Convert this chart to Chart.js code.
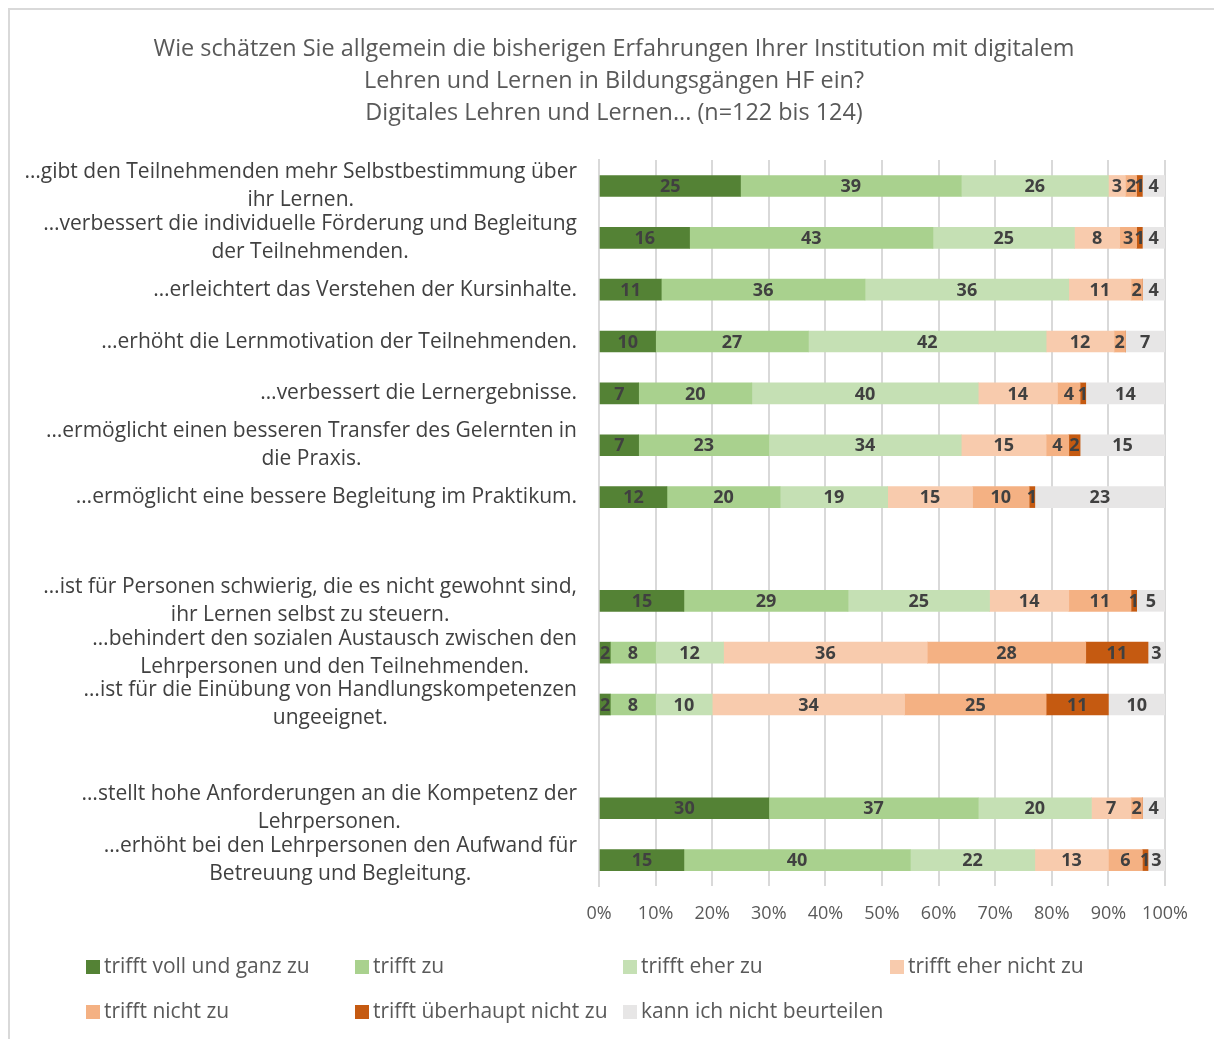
<!DOCTYPE html>
<html>
<head>
<meta charset="utf-8">
<script src="https://cdn.jsdelivr.net/npm/chart.js@4"></script>
<style>
  html, body { margin: 0; padding: 0; background: #fff; }
  #wrap { position: relative; width: 1214px; height: 1039px; }
  #frame { position: absolute; left: 8px; top: 8px; width: 1210px; height: 1040px;
           border-left: 2px solid #d9d9d9; border-top: 2px solid #d9d9d9; }
  #chart { position: absolute; left: 0; top: 0; }
  #legend { position: absolute; left: 0; top: 0; width: 1214px; height: 1039px; pointer-events: none;
            font-family: "Open Sans", sans-serif; font-size: 21px; color: #595959; }
  .item { position: absolute; white-space: nowrap; line-height: 28px; }
  .box { display: inline-block; width: 14px; height: 14px; margin-right: 4px; vertical-align: -1px; }
</style>
</head>
<body>
<div id="wrap">
  <div id="frame"></div>
  <canvas id="chart" width="1214" height="1039"></canvas>
  <div id="legend"></div>
</div>
<script>
const categories = [
  ['…gibt den Teilnehmenden mehr Selbstbestimmung über', 'ihr Lernen.'],
  ['…verbessert die individuelle Förderung und Begleitung', 'der Teilnehmenden.'],
  '…erleichtert das Verstehen der Kursinhalte.',
  '…erhöht die Lernmotivation der Teilnehmenden.',
  '…verbessert die Lernergebnisse.',
  ['…ermöglicht einen besseren Transfer des Gelernten in', 'die Praxis.'],
  '…ermöglicht eine bessere Begleitung im Praktikum.',
  '',
  ['…ist für Personen schwierig, die es nicht gewohnt sind,', 'ihr Lernen selbst zu steuern.'],
  ['…behindert den sozialen Austausch zwischen den', 'Lehrpersonen und den Teilnehmenden.'],
  ['…ist für die Einübung von Handlungskompetenzen', 'ungeeignet.'],
  '',
  ['…stellt hohe Anforderungen an die Kompetenz der', 'Lehrpersonen.'],
  ['…erhöht bei den Lehrpersonen den Aufwand für', 'Betreuung und Begleitung.']
];

const seriesNames = ['trifft voll und ganz zu', 'trifft zu', 'trifft eher zu', 'trifft eher nicht zu',
  'trifft nicht zu', 'trifft überhaupt nicht zu', 'kann ich nicht beurteilen'];
const seriesColors = ['#548235', '#A9D18E', '#C5E0B4', '#F8CBAD', '#F4B183', '#C55A11', '#E7E6E6'];

const volletGanz     = [25, 16, 11, 10,  7,  7, 12, null, 15,  2,  2, null, 30, 15];
const trifftZu       = [39, 43, 36, 27, 20, 23, 20, null, 29,  8,  8, null, 37, 40];
const eherZu         = [26, 25, 36, 42, 40, 34, 19, null, 25, 12, 10, null, 20, 22];
const eherNicht      = [ 3,  8, 11, 12, 14, 15, 15, null, 14, 36, 34, null,  7, 13];
const nichtZu        = [ 2,  3,  2,  2,  4,  4, 10, null, 11, 28, 25, null,  2,  6];
const ueberhauptNicht= [ 1,  1,  0,  0,  1,  2,  1, null,  1, 11, 11, null,  0,  1];
const kannNicht      = [ 4,  4,  4,  7, 14, 15, 23, null,  5,  3, 10, null,  4,  3];

const seriesValues = [volletGanz, trifftZu, eherZu, eherNicht, nichtZu, ueberhauptNicht, kannNicht];
const xTicks = [0, 10, 20, 30, 40, 50, 60, 70, 80, 90, 100];

const FONT = '"Open Sans", sans-serif';

// Zahlen in die Balkensegmente schreiben
const barLabels = {
  id: 'barLabels',
  afterDatasetsDraw(chart) {
    const ctx = chart.ctx;
    ctx.save();
    ctx.font = 'bold 18px ' + FONT;
    ctx.fillStyle = '#404040';
    ctx.textAlign = 'center';
    ctx.textBaseline = 'middle';
    chart.data.datasets.forEach((ds, i) => {
      const meta = chart.getDatasetMeta(i);
      meta.data.forEach((bar, j) => {
        const v = ds.data[j];
        if (!v) return;
        ctx.fillText(String(v), (bar.x + bar.base) / 2, bar.y + 1);
      });
    });
    ctx.restore();
  }
};

// Kategorien: Block rechtsbündig, Zeilen im Block zentriert (wie in Excel)
const catLabels = {
  id: 'catLabels',
  afterDraw(chart) {
    const ctx = chart.ctx;
    const yScale = chart.scales.y;
    const right = yScale.right - 22;
    ctx.save();
    ctx.font = '21px ' + FONT;
    ctx.fillStyle = '#404040';
    ctx.textAlign = 'center';
    ctx.textBaseline = 'middle';
    chart.data.labels.forEach((lab, i) => {
      const lines = Array.isArray(lab) ? lab : [lab];
      if (!lines[0]) return;
      const w = Math.max(...lines.map(l => ctx.measureText(l).width));
      const cx = right - w / 2;
      const cy = yScale.getPixelForTick(i);
      lines.forEach((l, k) => {
        ctx.fillText(l, cx, cy + (k - (lines.length - 1) / 2) * 28);
      });
    });
    ctx.restore();
  }
};

const chart = new Chart(document.getElementById('chart'), {
  type: 'bar',
  data: {
    labels: categories,
    datasets: seriesNames.map((name, i) => ({
      label: name,
      data: seriesValues[i],
      backgroundColor: seriesColors[i],
      borderWidth: 0,
      barThickness: 21
    }))
  },
  options: {
    responsive: false,
    animation: false,
    indexAxis: 'y',
    layout: { padding: { left: 14, right: 0, top: 0, bottom: 108 } },
    scales: {
      x: {
        stacked: true,
        min: 0, max: 100,
        afterBuildTicks: s => { s.ticks = xTicks.map(v => ({ value: v })); },
        afterFit: s => { s.height = 45; },
        grid: { color: '#D9D9D9', lineWidth: 2, drawTicks: false },
        border: { display: false },
        ticks: { color: '#595959', font: { family: FONT, size: 18 }, padding: 17,
                 callback: v => v + '%' }
      },
      y: {
        stacked: true,
        afterFit: s => { s.width = 585; },
        grid: { display: false, drawTicks: false },
        border: { color: '#D9D9D9', width: 2 },
        ticks: { display: false, autoSkip: false }
      },
      // leere Achse rechts, hält den Platz rechts frei
      yRight: {
        type: 'category',
        position: 'right',
        afterFit: s => { s.width = 49; },
        grid: { display: false, drawTicks: false },
        border: { display: false },
        ticks: { display: false }
      }
    },
    plugins: {
      legend: { display: false },
      tooltip: { enabled: false },
      title: {
        display: true,
        text: ['Wie schätzen Sie allgemein die bisherigen Erfahrungen Ihrer Institution mit digitalem',
               'Lehren und Lernen in Bildungsgängen HF ein?',
               'Digitales Lehren und Lernen... (n=122 bis 124)'],
        color: '#595959',
        font: { family: FONT, size: 23.4, weight: 'normal', lineHeight: 1.368 },
        padding: { top: 33, bottom: 31 }
      }
    }
  },
  plugins: [barLabels, catLabels]
});

// Legende in vier Spalten
const legend = document.getElementById('legend');
const colX = [86, 355, 623, 890];
const rowY = [951, 996];
seriesNames.forEach((name, i) => {
  const el = document.createElement('div');
  el.className = 'item';
  el.style.left = colX[i % 4] + 'px';
  el.style.top = rowY[Math.floor(i / 4)] + 'px';
  el.innerHTML = '<span class="box" style="background:' + seriesColors[i] + '"></span>' + name;
  legend.appendChild(el);
});
</script>
</body>
</html>
